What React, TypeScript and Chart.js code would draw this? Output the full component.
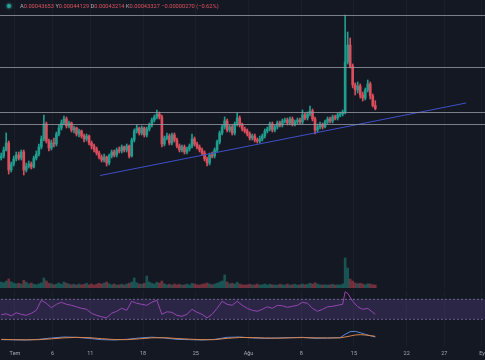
import React, { useEffect, useRef } from 'react';
import { Chart, registerables } from 'chart.js';

Chart.register(...registerables);

// ---------- data ----------
// candle timing: 3 candles per day, day 1 = 1 Tem (July 1)
const FIRST_CANDLE_DAY = -0.833;
const CANDLES_PER_DAY = 3;
// prices in units of 1e-8
const firstOpen = 38400;
const closes = [
  38600, 39200, 39900, 37200, 37800, 38300, 38700, 38400, 39000, 37200,
  37600, 37800, 37500, 38400, 38800, 39500, 40300, 41800, 40100, 39400,
  39900, 39800, 40800, 41400, 41900, 42300, 41600, 41900, 41200, 41400,
  40800, 41100, 40600, 40300, 40600, 39900, 39600, 39300, 38900, 38500,
  38200, 38500, 37900, 38600, 39000, 38700, 39200, 39100, 39500, 39200,
  39600, 38600, 40200, 41100, 41400, 40900, 41400, 40700, 41300, 41700,
  42200, 42500, 42800, 42500, 39800, 40400, 40600, 39900, 40700, 40200,
  39600, 39200, 39500, 39000, 39300, 39600, 40300, 39800, 39500, 39200,
  38900, 38300, 37900, 38700, 38600, 39200, 40000, 40900, 41500, 42100,
  41200, 41500, 40900, 41800, 42400, 41700, 41300, 41100, 40800, 40400,
  40600, 40200, 40100, 40300, 40600, 41100, 41300, 41800, 41200, 41500,
  41900, 41700, 42100, 42200, 41900, 42300, 41800, 42000, 42200, 42000,
  42700, 42400, 42800, 43100, 42300, 41200, 41500, 41700, 41500, 42000,
  42300, 42100, 42500, 42400, 42700, 42800, 43000, 48000, 49700, 47600,
  45700, 45200, 45600, 44700, 44400, 45200, 45800, 44600, 43653, 43327,
];
const highs = [
  38900, 39500, 40900, 40100, 38000, 38600, 39000, 39000, 39200, 39200,
  37900, 38100, 38000, 38600, 39100, 39800, 40600, 42700, 42000, 40300,
  40200, 40400, 41000, 41700, 42200, 42600, 42500, 42100, 42000, 41600,
  41500, 41300, 41200, 40800, 40800, 40700, 40100, 39800, 39500, 39100,
  38700, 38800, 38600, 38800, 39200, 39200, 39400, 39500, 39700, 39600,
  39800, 39700, 40400, 41300, 41700, 41500, 41600, 41500, 41500, 41900,
  42400, 42700, 43200, 43000, 42700, 40600, 40900, 40800, 40900, 40900,
  40400, 39800, 39700, 39700, 39500, 39800, 40800, 40500, 40000, 39700,
  39400, 39100, 38500, 38900, 39000, 39400, 40200, 41100, 41700, 42500,
  42300, 41700, 41700, 42000, 42900, 42600, 41900, 41500, 41300, 41000,
  40800, 40800, 40400, 40600, 40800, 41300, 41500, 42000, 42000, 41700,
  42100, 42100, 42300, 42400, 42400, 42500, 42500, 42200, 42400, 42400,
  43200, 42900, 43000, 43600, 43300, 42500, 41800, 42000, 41900, 42200,
  42500, 42500, 42700, 42700, 42900, 43000, 43200, 52700, 51000, 50400,
  47800, 45900, 46000, 45800, 45000, 45400, 46200, 46000, 44800, 44129,
];
const lows = [
  38200, 38400, 39100, 36800, 37000, 37600, 38100, 38200, 38200, 36700,
  37000, 37400, 37300, 37400, 38200, 38600, 39300, 40100, 39900, 39100,
  39200, 39500, 39600, 40600, 41200, 41700, 41400, 41400, 41000, 40900,
  40600, 40500, 40400, 40000, 40100, 39700, 39300, 39000, 38700, 38300,
  38000, 38000, 37600, 37700, 38400, 38500, 38500, 38900, 38900, 39000,
  39000, 38400, 38500, 40000, 40900, 40700, 40700, 40500, 40500, 41100,
  41500, 42000, 42300, 42300, 39500, 39600, 40200, 39700, 39700, 40000,
  39400, 39000, 39000, 38800, 38800, 39100, 39400, 39600, 39300, 39000,
  38700, 38100, 37600, 37700, 38400, 38400, 39000, 39800, 40700, 41300,
  41000, 41000, 40700, 40700, 41600, 41500, 41100, 40900, 40600, 40200,
  40200, 40000, 39900, 39900, 40100, 40400, 40900, 41100, 41000, 41000,
  41300, 41500, 41500, 41900, 41700, 41700, 41600, 41600, 41800, 41800,
  41800, 42200, 42200, 42600, 42100, 40800, 41000, 41300, 41300, 41400,
  41800, 41900, 41900, 42200, 42200, 42500, 42600, 42800, 47800, 47400,
  45400, 44700, 44900, 44400, 44100, 44200, 45000, 44300, 43500, 43214,
];
// volume, millions
const volumes = [
  600, 520, 700, 900, 620, 500, 420, 480, 400, 780,
  580, 420, 500, 380, 320, 420, 520, 1000, 700, 480,
  420, 320, 400, 500, 380, 600, 480, 400, 320, 380,
  300, 400, 320, 380, 480, 320, 400, 300, 380, 480,
  400, 500, 600, 420, 320, 400, 300, 320, 380, 300,
  400, 480, 600, 1000, 520, 400, 380, 480, 1200, 600,
  480, 400, 580, 500, 700, 420, 320, 380, 300, 400,
  320, 380, 300, 320, 400, 300, 480, 400, 320, 300,
  380, 420, 500, 400, 320, 400, 480, 600, 700, 1300,
  600, 420, 480, 400, 580, 400, 320, 300, 320, 380,
  300, 320, 400, 300, 320, 400, 300, 380, 320, 300,
  300, 380, 320, 300, 400, 300, 320, 380, 300, 320,
  400, 320, 380, 480, 400, 520, 400, 320, 300, 320,
  300, 320, 380, 300, 320, 300, 400, 3000, 2000, 900,
  700, 500, 420, 480, 400, 320, 420, 400, 320, 300,
];
// RSI read at these candle indices
const rsiIdx = [
  0, 2, 4, 6, 8, 10, 12, 14, 16, 18, 20, 22, 24, 26, 28, 30, 32, 34, 36, 38,
  40, 42, 44, 46, 48, 50, 52, 54, 56, 58, 60, 62, 64, 66, 68, 70, 72, 74, 76, 78,
  80, 82, 84, 86, 88, 90, 92, 94, 96, 98, 100, 102, 104, 106, 108, 110, 112, 114, 116, 118,
  120, 122, 124, 126, 128, 130, 132, 134, 136, 137, 138, 140, 142, 144, 146, 148, 149,
];
const rsiValues = [
  39, 41, 37, 43, 40, 38, 42, 48, 68, 62, 53, 60, 64, 60, 58, 55, 52, 50, 42, 38,
  35, 33, 42, 46, 52, 48, 66, 62, 60, 58, 64, 68, 40, 45, 44, 38, 36, 40, 50, 44,
  40, 33, 40, 52, 66, 60, 58, 66, 58, 52, 48, 46, 50, 55, 52, 58, 57, 54, 56, 58,
  64, 62, 52, 46, 50, 55, 56, 58, 60, 85, 82, 66, 55, 50, 52, 44, 40,
];
// MACD read at these candle indices (price units)
const macdIdx = [
  0, 5, 10, 15, 20, 25, 30, 35, 40, 45, 50, 55, 60, 65, 70, 75, 80, 85, 90, 95,
  100, 105, 110, 115, 120, 125, 130, 135, 137, 139, 141, 143, 145, 147, 149,
];
const macdValues = [
  -200, -250, -300, -100, 300, 600, 500, 200, -200, -300, -100, 300, 550, 300, -100, -200, -300, -100, 500, 600,
  300, 200, 300, 400, 500, 200, 300, 400, 1400, 2200, 2300, 1900, 1400, 1000, 600,
];
const signalValues = [
  -100, -200, -250, -200, 50, 350, 500, 400, 100, -150, -200, 50, 350, 400, 150, -50, -200, -200, 200, 450,
  450, 300, 250, 350, 420, 350, 300, 350, 600, 900, 1200, 1300, 1200, 1000, 800,
];
// horizontal drawn levels and trend line
const levelPrices = [52650, 47450, 42950, 41750];
const trendDays = [12.29, 60.89];
const trendPrices = [36650, 43900];
// x-axis ticks (days, 1 = 1 Tem)
const tickDays = [1, 6, 11, 18, 25, 32, 39, 46, 53, 58, 63];
const tickLabels = ['Tem', '6', '11', '18', '25', 'Ağu', '8', '15', '22', '27', 'Ey'];
// legend line
const headerLetters = ['A', 'Y', 'D', 'K'];
const headerValues = ['0.00043653', '0.00044129', '0.00043214', '0.00043327'];
const headerChange = '−0.00000270 (−0.62%)';

// ---------- style ----------
const BG = '#141823';
const UP = '#1f9d8f';
const DOWN = '#de4d5c';
const FONT = 'Roboto, "Liberation Sans", Arial, sans-serif';
const X_MIN = -0.99;
const X_MAX = 63.4;

const candleDay = (i: number) => FIRST_CANDLE_DAY + i / CANDLES_PER_DAY;
const opens = [firstOpen, ...closes.slice(0, -1)];
const isUp = closes.map((c, i) => c >= opens[i]);

function xScale(showLabels: boolean): any {
  return {
    type: 'linear',
    min: X_MIN,
    max: X_MAX,
    offset: false,
    display: true,
    afterBuildTicks: (s: any) => {
      s.ticks = tickDays.map((v) => ({ value: v }));
    },
    afterFit: (s: any) => {
      s.paddingLeft = 0;
      s.paddingRight = 0;
      s.height = showLabels ? 14 : 0;
    },
    grid: { color: 'rgba(255,255,255,0.03)', drawTicks: false, offset: false, lineWidth: 1 },
    border: { display: false },
    ticks: {
      display: showLabels,
      autoSkip: false,
      maxRotation: 0,
      padding: 4,
      color: '#a6a9b2',
      font: { size: 5.5, family: FONT },
      callback: (_v: any, i: number) => tickLabels[i],
    },
  };
}

const baseOptions = {
  responsive: false,
  maintainAspectRatio: false,
  animation: false as const,
  events: [] as any[],
  layout: { padding: 0 },
  plugins: { legend: { display: false }, tooltip: { enabled: false } },
};

export default function App() {
  const mainRef = useRef<HTMLCanvasElement>(null);
  const volRef = useRef<HTMLCanvasElement>(null);
  const rsiRef = useRef<HTMLCanvasElement>(null);
  const macdRef = useRef<HTMLCanvasElement>(null);

  useEffect(() => {
    const charts: Chart[] = [];
    const candleColors = isUp.map((u) => (u ? UP : DOWN));

    const levelSets = levelPrices.map((p) => ({
      type: 'line' as const,
      data: [
        { x: X_MIN - 2, y: p },
        { x: X_MAX + 2, y: p },
      ],
      borderColor: 'rgba(150,153,162,0.8)',
      borderWidth: 1,
      pointRadius: 0,
      order: 0,
    }));

    charts.push(
      new Chart(mainRef.current!, {
        type: 'bar',
        data: {
          datasets: [
            ...levelSets,
            {
              type: 'line' as const,
              data: trendDays.map((d, i) => ({ x: d, y: trendPrices[i] })),
              borderColor: '#3f50c8',
              borderWidth: 1,
              pointRadius: 0,
              order: 0,
            },
            {
              type: 'bar' as const,
              data: closes.map((_c, i) => ({ x: candleDay(i), y: [lows[i], highs[i]] })),
              backgroundColor: candleColors,
              barThickness: 1,
              grouped: false,
              borderWidth: 0,
              order: 2,
            },
            {
              type: 'bar' as const,
              data: closes.map((c, i) => ({ x: candleDay(i), y: [opens[i], c] })),
              backgroundColor: candleColors,
              barThickness: 2,
              minBarLength: 1,
              grouped: false,
              borderWidth: 0,
              order: 1,
            },
          ] as any,
        },
        options: {
          ...baseOptions,
          scales: {
            x: xScale(false),
            y: { type: 'linear', min: 29200, max: 54200, display: false },
          },
        } as any,
      })
    );

    charts.push(
      new Chart(volRef.current!, {
        type: 'bar',
        data: {
          datasets: [
            {
              data: volumes.map((v, i) => ({ x: candleDay(i), y: v })),
              backgroundColor: isUp.map((u) => (u ? 'rgba(31,157,143,0.45)' : 'rgba(222,77,92,0.45)')),
              barThickness: 2,
              grouped: false,
              borderWidth: 0,
            },
          ] as any,
        },
        options: {
          ...baseOptions,
          scales: {
            x: xScale(false),
            y: { type: 'linear', min: 0, max: 3800, display: false },
          },
        } as any,
      })
    );

    charts.push(
      new Chart(rsiRef.current!, {
        type: 'line',
        data: {
          datasets: [
            {
              data: [
                { x: X_MIN - 2, y: 70 },
                { x: X_MAX + 2, y: 70 },
              ],
              borderColor: 'rgba(170,150,215,0.6)',
              borderDash: [2, 2],
              borderWidth: 1,
              pointRadius: 0,
              fill: '+1',
              backgroundColor: 'rgba(126,87,194,0.22)',
            },
            {
              data: [
                { x: X_MIN - 2, y: 30 },
                { x: X_MAX + 2, y: 30 },
              ],
              borderColor: 'rgba(170,150,215,0.6)',
              borderDash: [2, 2],
              borderWidth: 1,
              pointRadius: 0,
              fill: false,
            },
            {
              data: rsiIdx.map((ix, k) => ({ x: candleDay(ix), y: rsiValues[k] })),
              borderColor: '#9a44ac',
              borderWidth: 1,
              pointRadius: 0,
              fill: false,
            },
          ] as any,
        },
        options: {
          ...baseOptions,
          scales: {
            x: xScale(false),
            y: { type: 'linear', min: 12.6, max: 88.6, display: false },
          },
        } as any,
      })
    );

    charts.push(
      new Chart(macdRef.current!, {
        type: 'line',
        data: {
          datasets: [
            {
              data: macdIdx.map((ix, k) => ({ x: candleDay(ix), y: signalValues[k] })),
              borderColor: '#d9834a',
              borderWidth: 1,
              pointRadius: 0,
            },
            {
              data: macdIdx.map((ix, k) => ({ x: candleDay(ix), y: macdValues[k] })),
              borderColor: '#5a86d8',
              borderWidth: 1,
              pointRadius: 0,
            },
          ] as any,
        },
        options: {
          ...baseOptions,
          scales: {
            x: xScale(true),
            y: { type: 'linear', min: -2100, max: 3300, display: false },
          },
        } as any,
      })
    );

    return () => charts.forEach((c) => c.destroy());
  }, []);

  const abs = (top: number): React.CSSProperties => ({ position: 'absolute', left: 0, top });

  return (
    <div
      style={{
        position: 'absolute',
        left: 0,
        top: 0,
        width: 485,
        height: 360,
        background: BG,
        overflow: 'hidden',
      }}
    >
      <canvas ref={mainRef} width={485} height={250} style={abs(0)} />
      <canvas ref={volRef} width={485} height={38} style={abs(250)} />
      <canvas ref={rsiRef} width={485} height={38} style={abs(290)} />
      <canvas ref={macdRef} width={485} height={32} style={abs(328)} />
      <div
        style={{
          position: 'absolute',
          left: 7,
          top: 4,
          width: 4,
          height: 4,
          borderRadius: 2,
          background: '#26a69a',
          boxShadow: '0 0 2px 1px rgba(38,166,154,0.5)',
        }}
      />
      <div
        style={{
          position: 'absolute',
          left: 20,
          top: 0,
          lineHeight: '12px',
          fontSize: 5.7,
          fontFamily: FONT,
          whiteSpace: 'nowrap',
        }}
      >
        {headerLetters.map((l, i) => (
          <span key={l}>
            <span style={{ color: '#b2b5be' }}>{l}</span>
            <span style={{ color: '#e0535f' }}>{headerValues[i]}</span>{' '}
          </span>
        ))}
        <span style={{ color: '#e0535f' }}>{headerChange}</span>
      </div>
    </div>
  );
}
